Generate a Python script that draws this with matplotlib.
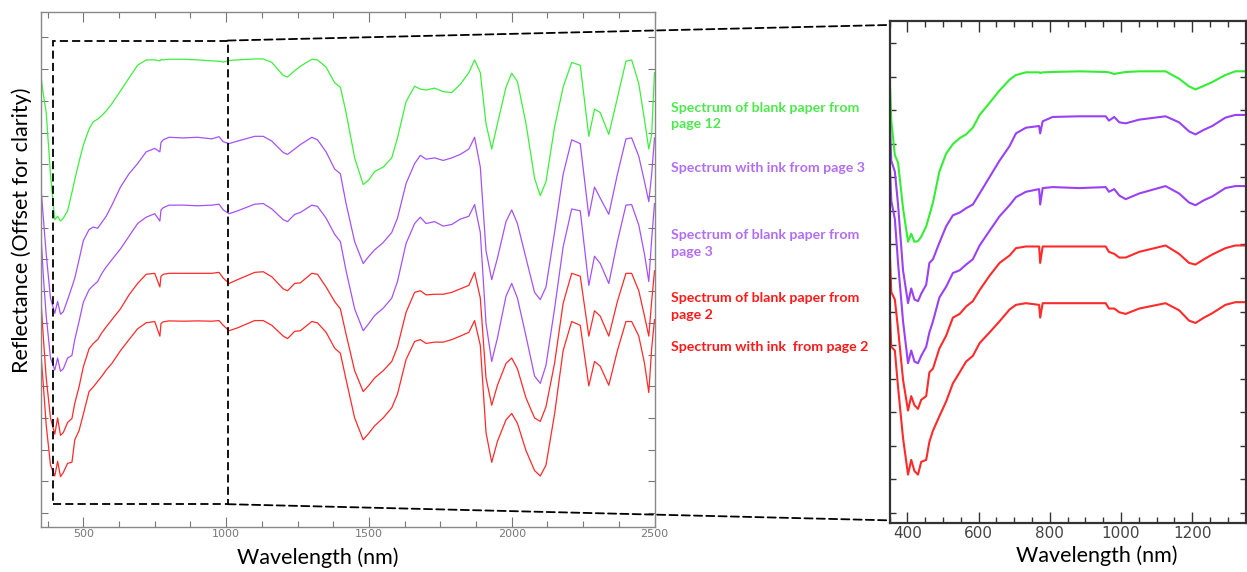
import matplotlib
matplotlib.use('Agg')
import matplotlib.pyplot as plt
from matplotlib.ticker import MultipleLocator
from matplotlib.patches import Rectangle, ConnectionPatch

# ---- full range spectra (left panel), offset units ----
wl_full = [350, 352, 360, 370, 385, 400, 410, 420, 430, 445,
           460, 470, 485, 500, 520, 535, 550, 565, 580, 600,
           630, 660, 690, 720, 750, 768, 772, 780, 800, 850,
           900, 950, 975, 990, 1010, 1040, 1100, 1130, 1160, 1200,
           1215, 1240, 1260, 1300, 1320, 1350, 1380, 1400, 1420, 1450,
           1480, 1500, 1520, 1550, 1580, 1600, 1630, 1660, 1680, 1700,
           1730, 1760, 1790, 1820, 1850, 1870, 1890, 1910, 1930, 1950,
           1980, 2000, 2020, 2050, 2080, 2100, 2120, 2150, 2180, 2210,
           2240, 2270, 2290, 2310, 2340, 2370, 2400, 2420, 2445, 2465,
           2480, 2490, 2500]

blank_p12 = [14.35, 13.75, 13.2, 12.63, 10.68, 9.25, 9.36, 9.21, 9.30, 9.53,
             10.11, 10.51, 11.08, 11.6, 12.11, 12.34, 12.42, 12.54, 12.68, 12.91,
             13.31, 13.72, 14.12, 14.29, 14.29, 14.26, 14.3, 14.29, 14.31, 14.31,
             14.29, 14.26, 14.25, 14.22, 14.27, 14.29, 14.32, 14.32, 14.21, 13.8,
             13.75, 13.95, 14.09, 14.31, 14.29, 14.06, 13.57, 13.43, 12.63, 11.2,
             10.36, 10.51, 10.77, 10.91, 11.2, 11.83, 12.97, 13.46, 13.37, 13.34,
             13.4, 13.29, 13.26, 13.52, 13.89, 14.29, 13.89, 12.28, 11.48, 12.28,
             13.43, 13.87, 13.61, 12.28, 10.56, 10.01, 10.45, 12.17, 13.43, 14.21,
             14.12, 11.88, 12.74, 12.63, 11.94, 13.09, 14.25, 14.29, 13.54, 12.4,
             11.48, 11.94, 13.89]

ink_p3 = [10.97, 10.22, 9.3, 8.16, 6.78, 6.3, 6.67, 6.27, 6.35, 6.73,
          7.13, 7.41, 7.99, 8.59, 8.94, 9.02, 8.98, 9.17, 9.36, 9.71,
          10.28, 10.7, 11.02, 11.39, 11.5, 11.39, 11.69, 11.77, 11.85, 11.83,
          11.85, 11.8, 11.87, 11.71, 11.65, 11.73, 11.88, 11.88, 11.73, 11.37,
          11.31, 11.48, 11.62, 11.85, 11.77, 11.39, 10.85, 10.7, 9.76, 8.56,
          7.87, 8.1, 8.3, 8.53, 8.85, 9.3, 10.39, 11.02, 11.28, 11.16,
          11.2, 11.12, 11.2, 11.31, 11.48, 11.85, 10.91, 8.27, 7.36, 8.04,
          9.19, 9.56, 9.13, 8.04, 6.96, 6.73, 7.13, 8.85, 10.68, 11.77,
          11.65, 9.36, 10.28, 9.93, 9.42, 10.68, 11.8, 11.83, 11.25, 10.45,
          9.82, 10.68, 11.83]

blank_p3 = [9.3, 8.73, 7.47, 6.21, 4.89, 4.51, 4.89, 4.47, 4.55, 4.89,
            4.97, 5.47, 6.04, 6.65, 7.04, 7.18, 7.3, 7.56, 7.76, 7.99,
            8.33, 8.73, 9.13, 9.33, 9.44, 9.21, 9.56, 9.63, 9.71, 9.71,
            9.69, 9.71, 9.74, 9.56, 9.44, 9.53, 9.74, 9.76, 9.59, 9.25,
            9.19, 9.42, 9.48, 9.71, 9.67, 9.3, 8.79, 8.56, 7.64, 6.44,
            5.75, 5.98, 6.23, 6.46, 6.78, 7.3, 8.5, 9.13, 9.33, 9.13,
            9.19, 9.05, 9.1, 9.27, 9.36, 9.73, 8.85, 5.98, 4.78, 5.52,
            6.84, 7.24, 6.78, 5.58, 4.32, 4.09, 4.66, 6.44, 8.39, 9.59,
            9.53, 7.18, 8.1, 7.87, 7.24, 8.56, 9.71, 9.73, 9.08, 8.16,
            7.3, 8.62, 9.76]

blank_p2 = [7.59, 6.67, 5.52, 4.26, 3.0, 2.49, 3.0, 2.45, 2.54, 2.86,
            2.98, 3.46, 3.98, 4.61, 5.18, 5.35, 5.47, 5.69, 5.87, 6.1,
            6.44, 6.88, 7.24, 7.53, 7.56, 7.13, 7.47, 7.53, 7.56, 7.56,
            7.56, 7.56, 7.59, 7.41, 7.24, 7.36, 7.59, 7.61, 7.45, 7.07,
            7.01, 7.24, 7.26, 7.56, 7.53, 7.13, 6.67, 6.44, 5.64, 4.49,
            3.83, 4.03, 4.26, 4.49, 4.78, 5.24, 6.33, 6.96, 7.01, 6.88,
            6.9, 6.9, 6.96, 7.07, 7.18, 7.59, 6.78, 4.26, 3.4, 4.03,
            4.72, 4.89, 4.55, 3.63, 3.0, 2.89, 3.35, 4.72, 6.61, 7.56,
            7.47, 5.58, 6.38, 6.21, 5.58, 6.67, 7.56, 7.56, 7.01, 6.21,
            5.58, 6.67, 7.64]

ink_p2 = [5.47, 4.95, 4.03, 2.77, 1.51, 1.17, 1.63, 1.15, 1.28, 1.57,
          1.6, 2.31, 2.6, 3.12, 3.83, 3.98, 4.15, 4.32, 4.51, 4.72,
          5.12, 5.47, 5.81, 6.0, 6.04, 5.58, 5.98, 6.03, 6.06, 6.05,
          6.06, 6.05, 6.07, 5.92, 5.75, 5.84, 6.07, 6.07, 5.92, 5.58,
          5.5, 5.73, 5.75, 6.04, 6.0, 5.7, 5.2, 5.04, 4.21, 3.0,
          2.31, 2.52, 2.75, 3.0, 3.32, 3.75, 4.84, 5.41, 5.47, 5.35,
          5.39, 5.39, 5.47, 5.58, 5.7, 6.07, 5.29, 2.54, 1.6, 2.26,
          2.94, 3.14, 2.83, 1.97, 1.34, 1.17, 1.51, 3.12, 5.12, 6.04,
          5.92, 4.01, 4.78, 4.63, 4.03, 5.12, 6.04, 6.04, 5.58, 4.72,
          3.8, 5.18, 6.1]

# ---- zoomed spectra (right panel) ----
wl_zoom = [350, 355, 365, 374, 388, 402, 411, 420, 430, 439,
           453, 462, 472, 490, 509, 528, 547, 565, 584, 603,
           631, 659, 687, 705, 733, 770, 773, 780, 808, 883,
           957, 966, 981, 995, 1013, 1051, 1125, 1163, 1191, 1209,
           1233, 1256, 1293, 1321, 1350]

z_blank_p12 = [13.16, 11.69, 10.66, 10.44, 9.08, 8.08, 8.32, 8.08, 8.1, 8.23,
               8.54, 8.87, 9.25, 10.17, 10.71, 10.99, 11.17, 11.28, 11.48, 11.86,
               12.22, 12.59, 12.91, 13.05, 13.13, 13.13, 13.11, 13.13, 13.14, 13.16,
               13.14, 13.13, 13.08, 13.11, 13.14, 13.16, 13.16, 12.94, 12.71, 12.62,
               12.73, 12.84, 13.05, 13.16, 13.16]
z_ink_p3 = [11.91, 10.5, 10.17, 9.19, 7.23, 6.25, 6.69, 6.36, 6.31, 6.53,
            6.8, 7.45, 7.56, 8.05, 8.54, 8.87, 8.95, 9.08, 9.19, 9.52,
            10.01, 10.5, 10.93, 11.31, 11.48, 11.53, 11.31, 11.67, 11.8, 11.82,
            11.82, 11.69, 11.8, 11.64, 11.61, 11.72, 11.82, 11.64, 11.37, 11.28,
            11.42, 11.53, 11.78, 11.86, 11.86]
z_blank_p3 = [10.61, 9.3, 8.76, 7.45, 5.71, 4.46, 4.84, 4.51, 4.46, 4.68,
              4.95, 5.38, 5.71, 6.42, 6.74, 7.15, 7.23, 7.4, 7.56, 7.97,
              8.41, 8.84, 9.17, 9.41, 9.57, 9.65, 9.19, 9.68, 9.71, 9.68,
              9.71, 9.57, 9.65, 9.46, 9.35, 9.52, 9.74, 9.52, 9.25, 9.17,
              9.32, 9.43, 9.68, 9.74, 9.74]
z_blank_p2 = [8.0, 6.58, 6.36, 5.49, 3.97, 3.05, 3.48, 3.21, 3.1, 3.37,
              3.48, 4.19, 4.3, 4.9, 5.28, 5.82, 5.93, 6.15, 6.31, 6.64,
              7.07, 7.45, 7.67, 7.89, 7.94, 7.94, 7.45, 7.94, 7.94, 7.94,
              7.94, 7.78, 7.72, 7.61, 7.61, 7.78, 7.97, 7.72, 7.45, 7.4,
              7.56, 7.7, 7.89, 7.97, 7.97]
z_ink_p2 = [6.25, 4.95, 4.84, 3.75, 2.23, 1.14, 1.58, 1.25, 1.14, 1.52,
            1.58, 2.12, 2.45, 2.88, 3.32, 3.86, 4.19, 4.51, 4.68, 5.06,
            5.38, 5.71, 6.06, 6.2, 6.25, 6.2, 5.82, 6.25, 6.25, 6.25,
            6.25, 6.09, 6.09, 5.98, 5.93, 6.09, 6.25, 6.04, 5.73, 5.66,
            5.82, 5.95, 6.2, 6.28, 6.28]

labels = ['Spectrum of blank paper from\npage 12',
          'Spectrum with ink from page 3',
          'Spectrum of blank paper from\npage 3',
          'Spectrum of blank paper from\npage 2',
          'Spectrum with ink  from page 2']

GREEN = '#3cf03c'
PURPLE = '#a552f5'
RED = '#ff2a2a'
line_colors = [GREEN, PURPLE, PURPLE, RED, RED]
text_colors = ['#4ee84e', '#b26ef2', '#b26ef2', '#ff1a1a', '#ff1a1a']

W, H = 1247, 572
fig = plt.figure(figsize=(W / 100, H / 100), dpi=100)

# left panel
ax1 = fig.add_axes([40.5 / W, 1 - 526.7 / H, 614 / W, 515 / H])
for ys, c in zip([blank_p12, ink_p3, blank_p3, blank_p2, ink_p2], line_colors):
    ax1.plot(wl_full, ys, color=c, lw=0.9)
ax1.set_xlim(350, 2500)
ax1.set_ylim(-0.43, 15.81)
ax1.set_xticks([500, 1000, 1500, 2000, 2500])
ax1.xaxis.set_minor_locator(MultipleLocator(125))
ax1.set_yticks(range(16))
ax1.set_yticklabels([])
ax1.tick_params(which='both', direction='in', top=True, right=True,
                color='#777777', width=0.8)
ax1.tick_params(which='major', length=7)
ax1.tick_params(which='minor', length=4)
ax1.tick_params(axis='y', length=5)
ax1.tick_params(axis='x', labelsize=8, labelcolor='#777777', pad=2)
for sp in ax1.spines.values():
    sp.set_color('#888888')
    sp.set_linewidth(1.0)
ax1.set_xlabel('Wavelength (nm)', family='Lato', fontsize=15.5)
ax1.xaxis.set_label_coords(0.452, -0.04, transform=ax1.transAxes)
ax1.set_ylabel('Reflectance (Offset for clarity)', family='Lato', fontsize=15.5)
ax1.yaxis.set_label_coords(-0.014, 0.576)

# zoom box
ls = (0, (4.5, 2.3))
ax1.add_patch(Rectangle((395, 0.28), 610, 14.62, fill=False, ec='k',
                        lw=1.3, linestyle=ls, clip_on=False, zorder=5))

# right panel
ax2 = fig.add_axes([889.5 / W, 1 - 523.3 / H, 356.2 / W, 502.3 / H])
for ys, c in zip([z_blank_p12, z_ink_p3, z_blank_p3, z_blank_p2, z_ink_p2],
                 ['#33ee33', '#9a40f5', '#9a40f5', RED, RED]):
    ax2.plot(wl_zoom, ys, color=c, lw=1.5)
ax2.set_xlim(350, 1350)
ax2.set_ylim(-0.31, 14.66)
ax2.set_xticks([400, 600, 800, 1000, 1200])
ax2.xaxis.set_minor_locator(MultipleLocator(50))
ax2.set_yticks(range(15))
ax2.set_yticklabels([])
ax2.tick_params(which='both', direction='in', top=True, right=True,
                color='#333333', width=1.0)
ax2.tick_params(which='major', length=8)
ax2.tick_params(which='minor', length=4)
ax2.tick_params(axis='y', length=4)
ax2.tick_params(axis='x', labelsize=11, labelcolor='#444444', pad=2)
for sp in ax2.spines.values():
    sp.set_color('#333333')
    sp.set_linewidth(1.6)
ax2.set_xlabel('Wavelength (nm)', family='Lato', fontsize=15.5)
ax2.xaxis.set_label_coords(0.583, -0.045, transform=ax2.transAxes)

# connector lines
for ya, yb in [(14.9, 0.992), (0.28, 0.006)]:
    con = ConnectionPatch(xyA=(1005, ya), coordsA=ax1.transData,
                          xyB=(-0.008, yb), coordsB=ax2.transAxes,
                          color='k', lw=1.3, linestyle=ls)
    fig.add_artist(con)

# labels between the panels
label_y = [116, 168, 243.5, 306.5, 347]
for txt, c, y in zip(labels, text_colors, label_y):
    fig.text(671 / W, 1 - y / H, txt, color=c, family='Lato', weight='bold',
             fontsize=10.2, va='center', ha='left', linespacing=1.5)

fig.savefig('out.png', dpi=100)
